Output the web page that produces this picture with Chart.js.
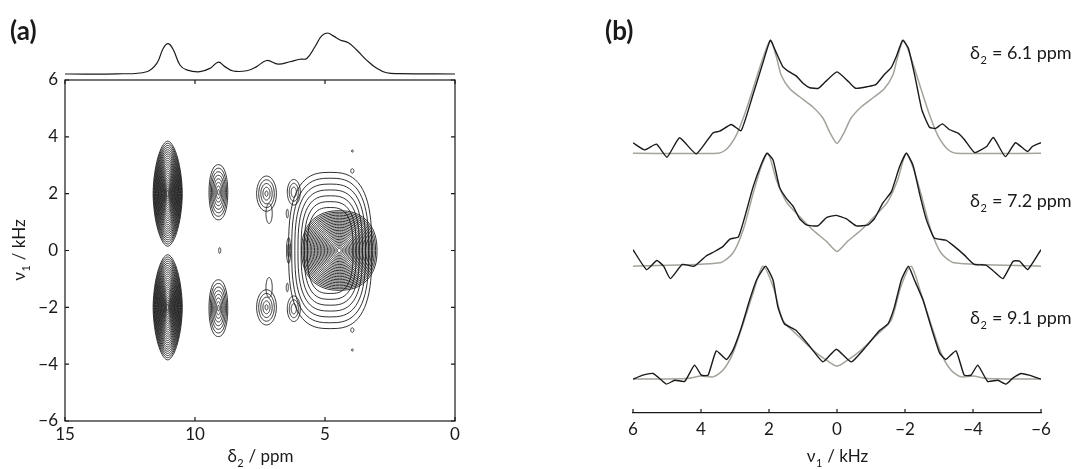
<!DOCTYPE html>
<html lang="en">
<head>
    <meta charset="UTF-8">
    <title>2D NMR contour and slices</title>
    <script src="https://cdn.jsdelivr.net/npm/chart.js"></script>
    <style>
        body { margin: 0; background: #fff; }
        .layer { position: absolute; left: 0; top: 0; }
    </style>
</head>
<body>
    <canvas id="topSpec" class="layer" width="1083" height="469"></canvas>
    <canvas id="contour" class="layer" width="1083" height="469"></canvas>
    <canvas id="slices" class="layer" width="1083" height="469"></canvas>

    <script>
        // (a) projection on top of the contour plot
        const projPpm = [15, 13, 11.86, 11.47, 11.22, 11.03, 10.83, 10.58, 10.32, 9.81, 9.42, 9.1, 8.85, 8.53, 8.01, 7.63, 7.24, 6.8, 6.35, 5.96, 5.7, 5.38, 5.13, 4.9, 4.68, 4.42, 4.1, 3.78, 3.4, 3.01, 2.63, 2.12, 0];
        const projInt = [0, 0.005, 0.056, 0.26, 0.63, 0.74, 0.585, 0.22, 0.1, 0.056, 0.14, 0.29, 0.18, 0.073, 0.08, 0.18, 0.33, 0.24, 0.3, 0.36, 0.38, 0.67, 0.93, 1.0, 0.93, 0.83, 0.76, 0.585, 0.34, 0.14, 0.03, 0.01, 0];

        // (a) contour peaks: centre, half widths, number of levels, innermost fraction, shape power
        const peakD2 = [11.05, 11.05, 9.1, 9.1, 7.25, 7.25, 7.15, 7.15, 9.05, 4.45, 4.8, 6.2, 6.2, 6.4, 3.95, 3.95, 3.95, 3.95, 6.45, 6.45];
        const peakNu1 = [2.0, -2.0, 2.05, -2.03, 2.0, -2.0, 1.3, -1.3, 0, 0, 0, 2.05, -2.05, 0, 2.8, -2.8, 3.5, -3.5, 1.3, -1.3];
        const peakWd2 = [0.56, 0.56, 0.36, 0.36, 0.38, 0.38, 0.12, 0.12, 0.04, 1.45, 1.6, 0.25, 0.25, 0.08, 0.06, 0.06, 0.03, 0.03, 0.04, 0.04];
        const peakWnu1 = [1.85, 1.85, 0.97, 1.0, 0.62, 0.62, 0.35, 0.35, 0.1, 1.4, 2.75, 0.45, 0.45, 0.45, 0.08, 0.08, 0.04, 0.04, 0.15, 0.15];
        const peakLevels = [24, 24, 8, 8, 5, 5, 1, 1, 1, 26, 7, 3, 3, 2, 1, 1, 1, 1, 1, 1];
        const peakInner = [0.06, 0.06, 0.1, 0.1, 0.15, 0.15, 1, 1, 1, 0.05, 0.55, 0.4, 0.4, 0.5, 1, 1, 1, 1, 1, 1];
        const peakPower = [1.8, 1.8, 2.2, 2.2, 2, 2, 2, 2, 2, 2.3, 2.8, 2, 2, 2, 2, 2, 2, 2, 2, 2];

        // (b) slices, kHz and intensity
        const nu61 = [6.0, 5.66, 5.31, 5.0, 4.63, 4.14, 3.65, 3.45, 3.11, 2.82, 2.47, 2.18, 1.96, 1.8, 1.6, 1.4, 1.2, 1.0, 0.8, 0.55, 0.35, 0.0, -0.35, -0.55, -0.9, -1.15, -1.4, -1.6, -1.75, -1.93, -2.1, -2.3, -2.5, -2.72, -2.9, -3.1, -3.3, -3.55, -3.75, -4.05, -4.4, -4.6, -4.95, -5.25, -5.6, -5.75, -6.0];
        const exp61 = [0.093, 0.03, 0.08, -0.035, 0.137, -0.006, 0.18, 0.195, 0.255, 0.2, 0.52, 0.8, 1.0, 0.9, 0.77, 0.72, 0.685, 0.62, 0.58, 0.575, 0.63, 0.72, 0.63, 0.575, 0.59, 0.61, 0.7, 0.76, 0.86, 1.0, 0.93, 0.67, 0.38, 0.23, 0.22, 0.26, 0.21, 0.18, 0.12, 0.006, 0.06, 0.14, -0.03, 0.093, 0.015, 0.06, 0.093];
        const simNu61 = [6, 3.5, 3.25, 2.96, 2.71, 2.47, 2.27, 1.96, 1.78, 1.64, 1.39, 1.1, 0.71, 0.41, 0.22, 0, -0.22, -0.41, -0.71, -1.1, -1.39, -1.64, -1.78, -1.96, -2.27, -2.47, -2.71, -2.96, -3.25, -3.5, -6];
        const sim61 = [0, 0, 0.035, 0.16, 0.35, 0.57, 0.76, 1.0, 0.85, 0.69, 0.57, 0.5, 0.41, 0.31, 0.19, 0.087, 0.19, 0.31, 0.41, 0.5, 0.57, 0.69, 0.85, 1.0, 0.76, 0.57, 0.35, 0.16, 0.035, 0, 0];

        const nu72 = [6.0, 5.6, 5.3, 5.1, 4.9, 4.55, 4.2, 3.85, 3.6, 3.35, 3.15, 2.9, 2.7, 2.47, 2.23, 2.06, 1.88, 1.69, 1.49, 1.29, 1.1, 0.9, 0.56, 0.31, 0.02, -0.27, -0.57, -0.91, -1.1, -1.35, -1.6, -1.84, -2.04, -2.24, -2.43, -2.63, -2.86, -3.2, -3.45, -3.74, -4.04, -4.38, -4.59, -4.88, -5.18, -5.37, -5.61, -6.0];
        const exp72 = [0.146, -0.03, 0.05, 0.0, -0.11, 0.015, 0.0, 0.09, 0.13, 0.175, 0.24, 0.26, 0.45, 0.7, 0.9, 1.0, 0.94, 0.7, 0.6, 0.53, 0.42, 0.365, 0.357, 0.43, 0.45, 0.42, 0.357, 0.365, 0.42, 0.56, 0.66, 0.88, 1.0, 0.89, 0.64, 0.41, 0.25, 0.23, 0.175, 0.1, 0.015, 0.01, -0.04, -0.11, 0.044, 0.044, -0.03, 0.146];
        const simNu72 = [6, 3.45, 3.06, 2.76, 2.47, 2.23, 2.03, 1.78, 1.49, 1.1, 0.71, 0.31, 0, -0.31, -0.71, -1.1, -1.49, -1.78, -2.03, -2.23, -2.47, -2.76, -3.06, -3.45, -6];
        const sim72 = [0, 0.03, 0.117, 0.32, 0.64, 0.88, 1.0, 0.76, 0.57, 0.44, 0.32, 0.22, 0.13, 0.22, 0.32, 0.44, 0.57, 0.76, 1.0, 0.88, 0.64, 0.32, 0.117, 0.03, 0];

        const nu91 = [6.0, 5.71, 5.41, 5.22, 5.02, 4.77, 4.48, 4.19, 3.99, 3.79, 3.55, 3.25, 3.06, 2.81, 2.57, 2.37, 2.1, 1.88, 1.74, 1.55, 1.2, 0.8, 0.41, 0.02, -0.42, -0.86, -1.25, -1.5, -1.69, -1.89, -2.1, -2.28, -2.53, -2.77, -3.02, -3.2, -3.5, -3.74, -3.94, -4.14, -4.43, -4.73, -4.97, -5.16, -5.41, -5.65, -6.0];
        const exp91 = [0.0, 0.035, 0.05, 0.006, -0.044, -0.01, -0.02, 0.124, 0.035, 0.035, 0.25, 0.174, 0.257, 0.46, 0.7, 0.876, 1.0, 0.876, 0.64, 0.49, 0.43, 0.29, 0.153, 0.265, 0.153, 0.29, 0.43, 0.49, 0.64, 0.876, 1.0, 0.876, 0.7, 0.46, 0.23, 0.174, 0.25, 0.035, 0.035, 0.124, -0.02, -0.01, -0.044, 0.006, 0.05, 0.035, 0.0];
        const simNu91 = [6, 4.4, 4.0, 3.65, 3.35, 3.06, 2.76, 2.47, 2.18, 1.88, 1.59, 1.2, 0.71, 0.31, 0, -0.31, -0.71, -1.2, -1.59, -1.88, -2.18, -2.47, -2.76, -3.06, -3.35, -3.65, -4.0, -4.4, -6];
        const sim91 = [0, 0.006, 0.027, 0.02, 0.08, 0.23, 0.49, 0.76, 1.0, 0.82, 0.52, 0.4, 0.257, 0.168, 0.115, 0.168, 0.257, 0.4, 0.52, 0.82, 1.0, 0.76, 0.49, 0.23, 0.08, 0.02, 0.027, 0.006, 0];

        const sliceLabels = ['6.1', '7.2', '9.1'];
        const sliceOffsets = [2, 1, 0];
        const labelLevels = [0.89, 0.575, 0.54];

        const FONT = 'Lato, "Open Sans", sans-serif';
        const INK = '#1a1a1a';
        const GREY = '#a3a39c';

        function pts(xs, ys, off) {
            return xs.map((v, i) => ({ x: v, y: ys[i] + (off || 0) }));
        }
        const minus = v => String(v).replace('-', '\u2212');

        // text with one subscript, e.g. δ2 / ppm
        function subText(ctx, x, y, base, sub, rest, size, align) {
            ctx.font = size + 'px ' + FONT;
            const w1 = ctx.measureText(base).width;
            const w3 = ctx.measureText(rest).width;
            ctx.font = Math.round(size * 0.62) + 'px ' + FONT;
            const w2 = ctx.measureText(sub).width;
            const x0 = align === 'center' ? x - (w1 + w2 + w3) / 2 : x;
            ctx.textAlign = 'left';
            ctx.textBaseline = 'alphabetic';
            ctx.fillText(sub, x0 + w1 + 0.5, y + size * 0.28);
            ctx.font = size + 'px ' + FONT;
            ctx.fillText(base, x0, y);
            ctx.fillText(rest, x0 + w1 + w2 + 1, y);
        }

        // box with inward ticks (panel a)
        const boxPlugin = {
            id: 'box',
            afterDraw(chart) {
                const { ctx, chartArea: a, scales: { x, y } } = chart;
                ctx.save();
                ctx.strokeStyle = INK;
                ctx.lineWidth = 1.2;
                ctx.strokeRect(a.left, a.top, a.width, a.height);
                ctx.beginPath();
                x.ticks.forEach(t => {
                    const px = x.getPixelForValue(t.value);
                    ctx.moveTo(px, a.bottom); ctx.lineTo(px, a.bottom - 4);
                    ctx.moveTo(px, a.top); ctx.lineTo(px, a.top + 4);
                });
                y.ticks.forEach(t => {
                    const py = y.getPixelForValue(t.value);
                    ctx.moveTo(a.left, py); ctx.lineTo(a.left + 4, py);
                    ctx.moveTo(a.right, py); ctx.lineTo(a.right - 4, py);
                });
                ctx.stroke();

                ctx.fillStyle = INK;
                ctx.font = 'bold 26px ' + FONT;
                ctx.textAlign = 'left';
                ctx.fillText('(a)', 10, 40);
                subText(ctx, (a.left + a.right) / 2, 462, '\u03b4', '2', ' / ppm', 17, 'center');
                ctx.translate(19, (a.top + a.bottom) / 2);
                ctx.rotate(-Math.PI / 2);
                subText(ctx, 0, 6, '\u03bd', '1', ' / kHz', 17, 'center');
                ctx.restore();
            }
        };

        const contourPlugin = {
            id: 'contours',
            afterDatasetsDraw(chart) {
                const { ctx, chartArea: a, scales: { x, y } } = chart;
                ctx.save();
                ctx.beginPath();
                ctx.rect(a.left, a.top, a.width, a.height);
                ctx.clip();
                ctx.strokeStyle = INK;
                ctx.lineWidth = 0.9;
                peakD2.forEach((d2, i) => {
                    const n = peakLevels[i];
                    const cx = x.getPixelForValue(d2);
                    const cy = y.getPixelForValue(peakNu1[i]);
                    const e = 2 / peakPower[i];
                    for (let k = 0; k < n; k++) {
                        const f = n > 1 ? 1 - (k / (n - 1)) * (1 - peakInner[i]) : 1;
                        const rx = Math.abs(x.getPixelForValue(d2 + peakWd2[i] * f) - cx);
                        const ry = Math.abs(y.getPixelForValue(peakNu1[i] + peakWnu1[i] * f) - cy);
                        ctx.beginPath();
                        for (let t = 0; t <= 72; t++) {
                            const th = t / 72 * 2 * Math.PI;
                            const c = Math.cos(th), s = Math.sin(th);
                            const px = cx + rx * Math.sign(c) * Math.pow(Math.abs(c), e);
                            const py = cy + ry * Math.sign(s) * Math.pow(Math.abs(s), e);
                            if (t === 0) ctx.moveTo(px, py); else ctx.lineTo(px, py);
                        }
                        ctx.closePath();
                        ctx.stroke();
                    }
                });
                ctx.restore();
            }
        };

        const slicePlugin = {
            id: 'sliceText',
            afterDraw(chart) {
                const { ctx, chartArea: a, scales: { x, y } } = chart;
                ctx.save();
                ctx.strokeStyle = INK;
                ctx.lineWidth = 1.2;
                ctx.beginPath();
                x.ticks.forEach(t => {
                    const px = x.getPixelForValue(t.value);
                    ctx.moveTo(px, a.bottom); ctx.lineTo(px, a.bottom - 4);
                });
                ctx.stroke();
                ctx.fillStyle = INK;
                ctx.font = 'bold 26px ' + FONT;
                ctx.textAlign = 'left';
                ctx.fillText('(b)', 605, 40);
                sliceLabels.forEach((lab, i) => {
                    const py = y.getPixelForValue(sliceOffsets[i] + labelLevels[i]) + 6;
                    subText(ctx, 970, py, '\u03b4', '2', ' = ' + lab + ' ppm', 18, 'left');
                });
                subText(ctx, (a.left + a.right) / 2, 462, '\u03bd', '1', ' / kHz', 17, 'center');
                ctx.restore();
            }
        };

        const base = {
            responsive: false,
            animation: false,
            plugins: { legend: { display: false }, tooltip: { enabled: false } }
        };

        // top projection
        new Chart(document.getElementById('topSpec'), {
            type: 'scatter',
            data: {
                datasets: [{
                    data: pts(projPpm, projInt),
                    showLine: true,
                    borderColor: INK,
                    borderWidth: 1.2,
                    pointRadius: 0,
                    tension: 0.4
                }]
            },
            options: {
                ...base,
                layout: { padding: { left: 65, right: 628, top: 0, bottom: 389 } },
                scales: {
                    x: { display: false, min: 0, max: 15, reverse: true },
                    y: { display: false, min: -0.146, max: 1.805 }
                }
            }
        });

        const tickFont = { family: FONT, size: 17 };
        const noGrid = { display: false, drawTicks: false };

        // contour map
        new Chart(document.getElementById('contour'), {
            type: 'scatter',
            data: { datasets: [{ data: [] }] },
            options: {
                ...base,
                layout: { padding: { left: 0, right: 628, top: 80, bottom: 0 } },
                scales: {
                    x: {
                        min: 0, max: 15, reverse: true,
                        afterFit: s => { s.height = 48; },
                        border: { display: false },
                        grid: noGrid,
                        ticks: { stepSize: 5, padding: 3, color: INK, font: tickFont, maxRotation: 0,
                            callback: v => minus(v) }
                    },
                    y: {
                        min: -6, max: 6,
                        afterFit: s => { s.width = 65; },
                        border: { display: false },
                        grid: noGrid,
                        ticks: { stepSize: 2, padding: 7, color: INK, font: tickFont,
                            callback: v => minus(v) }
                    }
                }
            },
            plugins: [contourPlugin, boxPlugin]
        });

        // slices
        const expData = [pts(nu61, exp61, sliceOffsets[0]), pts(nu72, exp72, sliceOffsets[1]), pts(nu91, exp91, sliceOffsets[2])];
        const simData = [pts(simNu61, sim61, sliceOffsets[0]), pts(simNu72, sim72, sliceOffsets[1]), pts(simNu91, sim91, sliceOffsets[2])];
        const sliceSets = [];
        simData.forEach(d => sliceSets.push({ data: d, showLine: true, borderColor: GREY, borderWidth: 1.5, pointRadius: 0, tension: 0.25, order: 2 }));
        expData.forEach(d => sliceSets.push({ data: d, showLine: true, borderColor: INK, borderWidth: 1.4, pointRadius: 0, tension: 0.15, order: 1 }));

        new Chart(document.getElementById('slices'), {
            type: 'scatter',
            data: { datasets: sliceSets },
            options: {
                ...base,
                layout: { padding: { left: 633, right: 42, top: 29, bottom: 0 } },
                scales: {
                    x: {
                        min: -6, max: 6, reverse: true,
                        afterFit: s => { s.height = 56; },
                        border: { display: true, color: INK, width: 1.2 },
                        grid: noGrid,
                        ticks: { stepSize: 2, padding: 6, color: INK, font: tickFont, maxRotation: 0,
                            callback: v => minus(v) }
                    },
                    y: { display: false, min: -0.3, max: 3.1 }
                }
            },
            plugins: [slicePlugin]
        });
    </script>
</body>
</html>
